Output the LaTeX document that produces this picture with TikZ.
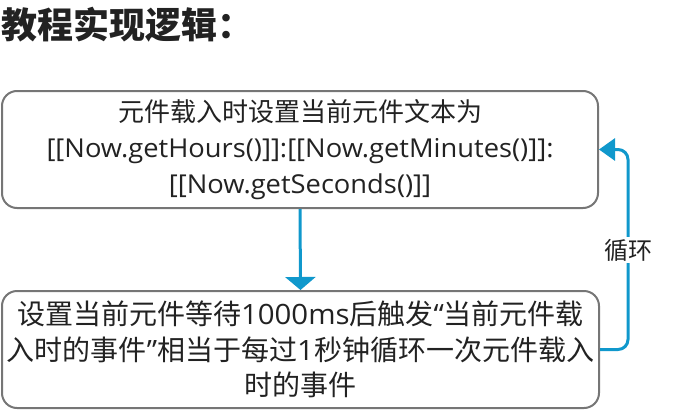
\documentclass[tikz,border=0pt]{standalone}
\usepackage{fontspec}
\setmainfont{Noto Sans CJK SC}
\newfontfamily\latfont[FakeStretch=1.05]{Open Sans}
\newcommand{\lat}[1]{{\latfont #1}}
\usetikzlibrary{arrows.meta}
\definecolor{flowblue}{RGB}{16,152,204}
\definecolor{boxgrey}{RGB}{118,118,118}
\definecolor{txt}{RGB}{34,34,34}
\tikzset{
  flowbox/.style={draw=boxgrey,line width=2pt,rounded corners=15pt,align=center,
    text=txt,font=\fontsize{26}{36}\selectfont,inner sep=0pt},
  bigtext/.style={font=\fontsize{28}{35.5}\selectfont},
  flowarrow/.style={draw=flowblue,line width=3pt,-{Triangle[width=30pt,length=13pt]}},
  looparrow/.style={draw=flowblue,line width=3pt,rounded corners=10pt,-{Triangle[width=22pt,length=16pt]}},
  looplabel/.style={fill=white,text=txt,font=\fontsize{24}{28}\selectfont,inner sep=2pt},
  titletext/.style={text=txt,font=\fontsize{36}{42}\selectfont\bfseries,anchor=west,inner sep=0pt}
}
\begin{document}
\begin{tikzpicture}[x=1pt,y=-1pt]
\useasboundingbox (0,0) rectangle (675,410);
\node[titletext] (title) at (1,25) {教程实现逻辑：};
\node[flowbox,minimum width=596pt,minimum height=117pt] (b1) at (300,149.5)
  {元件载入时设置当前元件文本为\\{}\lat{[[Now.getHours()]]:[[Now.getMinutes()]]:}\\{}\lat{[[Now.getSeconds()]]}};
\node[flowbox,bigtext,minimum width=597pt,minimum height=117pt] (b2) at (300.5,349.5)
  {设置当前元件等待\lat{1000ms}后触发\lat{“}当前元件载\\入时的事件\lat{”}相当于每过\lat{1}秒钟循环一次元件载入\\时的事件};
\draw[flowarrow] (b1.south) -- (b2.north);
\coordinate (c1) at (628,349.5);
\coordinate (c2) at (628,149.5);
\draw[looparrow] (b2.east) -- (c1) -- (c2) -- (b1.east);
\node[looplabel] (lbl) at (628,250) {循环};
\end{tikzpicture}
\end{document}
